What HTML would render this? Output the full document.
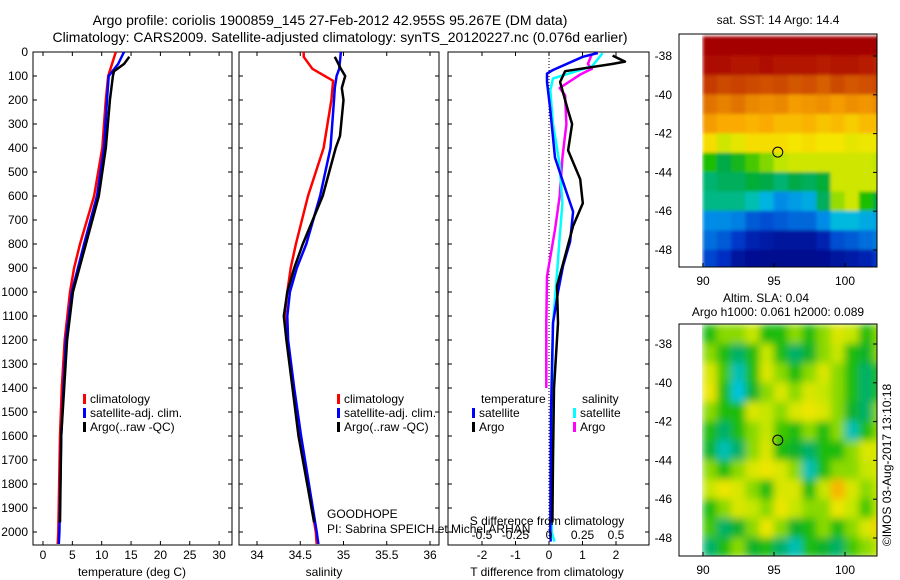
<!DOCTYPE html>
<html><head><meta charset="utf-8">
<style>
html,body{margin:0;padding:0;background:#fff;}
svg{display:block;font-family:"Liberation Sans",sans-serif;}
text{font-size:12px;fill:#000;}
</style></head>
<body>
<svg id="fig" width="900" height="580" viewBox="0 0 900 580" xmlns="http://www.w3.org/2000/svg">
<defs>
<filter id="blur1" x="-5%" y="-5%" width="110%" height="110%"><feGaussianBlur stdDeviation="1.5" edgeMode="duplicate"/></filter>
<filter id="blur2" x="-5%" y="-5%" width="110%" height="110%"><feGaussianBlur stdDeviation="4" edgeMode="duplicate"/></filter>
<clipPath id="clipTop"><rect x="702" y="34" width="175" height="233"/></clipPath>
<clipPath id="clipBot"><rect x="702" y="324" width="175" height="232"/></clipPath>
</defs>
<text x="330" y="25" text-anchor="middle" style="font-size:14px">Argo profile: coriolis 1900859_145 27-Feb-2012 42.955S 95.267E (DM data)</text>
<text x="340" y="42" text-anchor="middle" style="font-size:14px">Climatology: CARS2009. Satellite-adjusted climatology: synTS_20120227.nc (0.076d earlier)</text>
<g id="g"></g>
</svg>
<script>
// ---------- data ----------
const depthTicks = [0,100,200,300,400,500,600,700,800,900,1000,1100,1200,1300,1400,1500,1600,1700,1800,1900,2000];
const tempTicks = [0,5,10,15,20,25,30];
const salTicks = [34,34.5,35,35.5,36];
const tdiffTicks = [-2,-1,0,1,2];
const sdiffTickLabels = ["-0.5","-0.25","0","0.25","0.5"];
const sdiffTicks = [-0.5,-0.25,0,0.25,0.5];

const tClimDepth = [0,100,200,400,600,800,900,1000,1200,1400,1600,2000,2050];
const tClimVal   = [12.4,11.1,10.7,10.1,8.7,6.3,5.3,4.6,3.7,3.2,2.9,2.6,2.5];
const tSatDepth  = [0,50,100,200,400,600,800,1000,1200,1600,2000,2050];
const tSatVal    = [13.8,12.8,11.2,10.9,10.4,9.2,7.0,4.9,3.9,3.1,2.8,2.7];
const tArgoDepth = [20,50,80,100,200,400,600,800,1000,1200,1600,1960];
const tArgoVal   = [14.7,13.8,12.1,11.9,11.4,10.7,9.5,7.3,5.1,4.1,3.1,2.9];

const sClimDepth = [0,20,70,120,200,400,600,800,900,1000,1100,1200,1400,1600,1800,2000,2050];
const sClimVal   = [34.54,34.54,34.64,34.88,34.86,34.77,34.59,34.45,34.39,34.35,34.32,34.35,34.42,34.5,34.59,34.68,34.69];
const sSatDepth  = [0,70,100,150,200,400,600,800,900,1000,1100,1200,1400,1600,1800,2000,2050];
const sSatVal    = [34.97,34.95,34.92,34.9,34.89,34.85,34.73,34.57,34.46,34.38,34.35,34.36,34.43,34.51,34.6,34.69,34.71];
const sArgoDepth = [20,70,100,150,200,350,400,600,800,900,1000,1100,1200,1400,1600,1800,1960];
const sArgoVal   = [34.9,34.97,35.02,34.98,35.0,34.96,34.91,34.76,34.53,34.43,34.35,34.31,34.34,34.41,34.48,34.58,34.66];

const dTSatDepth  = [4,20,75,90,125,230,440,555,665,790,890,1000,1130,1500,2000,2040];
const dTSatVal    = [1.46,1.01,0.12,-0.06,-0.06,0.03,0.18,0.45,0.72,0.63,0.42,0.27,0.12,0.06,0.04,0.05];
const dTArgoDepth = [15,40,50,80,125,245,300,410,530,630,725,850,975,1130,1400,1700,1960];
const dTArgoVal   = [1.9,2.27,1.88,0.48,0.33,0.57,0.69,0.57,0.93,1.01,0.72,0.48,0.24,0.27,0.15,0.12,0.1];
const dSSatDepth  = [5,60,110,160,300,470,630,770,925,1130,1500,2000,2040];
const dSSatVal    = [0.4,0.32,0.03,0.01,0.03,0.08,0.1,0.08,0.06,0.03,0.02,0.02,0.04];
const dSArgoDepth = [8,50,70,95,150,180,300,440,600,740,935,1130,1400];
const dSArgoVal   = [0.32,0.29,0.32,0.23,0.08,0.12,0.13,0.1,0.08,0.045,-0.015,-0.02,-0.02];

const lonTicks = [90,95,100];
const latTicks = [-38,-40,-42,-44,-46,-48];
const gridLon0 = 90, gridLat0 = -37;
const sstGrid = [
 [1,1,1,1,1,1,1,1,1,1,1,1,1],
 [.97,.97,.95,.95,.97,.95,.95,.95,.93,.95,.95,.93,.92],
 [.88,.86,.87,.86,.85,.86,.84,.85,.83,.86,.84,.85,.86],
 [.8,.78,.8,.77,.76,.77,.74,.75,.76,.74,.76,.75,.77],
 [.74,.72,.72,.71,.72,.7,.7,.71,.69,.7,.68,.7,.7],
 [.66,.6,.63,.66,.66,.66,.65,.66,.65,.65,.63,.64,.64],
 [.5,.45,.48,.52,.55,.58,.6,.6,.6,.6,.6,.6,.58],
 [.43,.44,.44,.46,.45,.43,.45,.44,.46,.6,.6,.6,.6],
 [.42,.42,.42,.4,.35,.3,.32,.34,.44,.56,.6,.5,.46],
 [.3,.3,.28,.22,.2,.22,.24,.24,.3,.36,.36,.34,.33],
 [.25,.22,.16,.1,.08,.06,.06,.06,.1,.2,.22,.25,.27],
 [.18,.14,.06,.04,.03,.03,.03,.03,.04,.06,.08,.1,.16]
];
const slaGrid = [
 [.5,.55,.55,.58,.5,.5,.55,.5,.55,.6,.58,.5,.55],
 [.55,.5,.45,.5,.58,.5,.45,.48,.55,.58,.5,.48,.55],
 [.6,.52,.42,.5,.6,.55,.5,.55,.6,.55,.5,.45,.5],
 [.62,.5,.4,.48,.55,.6,.55,.6,.58,.55,.5,.45,.5],
 [.55,.5,.5,.6,.58,.55,.6,.62,.6,.55,.48,.45,.55],
 [.5,.45,.5,.55,.58,.52,.5,.55,.5,.55,.42,.5,.55],
 [.48,.42,.45,.55,.6,.5,.48,.45,.5,.5,.55,.6,.6],
 [.55,.5,.55,.6,.62,.6,.55,.42,.5,.55,.55,.58,.6],
 [.58,.62,.6,.55,.5,.6,.6,.5,.58,.68,.6,.55,.58],
 [.5,.55,.6,.58,.55,.62,.58,.55,.55,.62,.58,.52,.58],
 [.52,.45,.48,.55,.62,.55,.48,.5,.55,.5,.55,.6,.65],
 [.45,.5,.55,.48,.5,.45,.42,.5,.48,.45,.52,.55,.58]
];
const argoLon = 95.267, argoLat = -42.955;

// ---------- helpers ----------
const NS = "http://www.w3.org/2000/svg";
const G = document.getElementById('g');
function el(tag, attrs, parent){ const e=document.createElementNS(NS,tag); for(const k in attrs) e.setAttribute(k,attrs[k]); (parent||G).appendChild(e); return e; }
function txt(x,y,s,anchor,size){ const t=el('text',{x:x,y:y,'text-anchor':anchor||'middle'}); if(size) t.style.fontSize=size+'px'; t.textContent=s; return t; }

const Y0=52, YS=0.24, BOT=545;
const yD = d => Y0 + d*YS;
const xT = v => 43 + 5.87*v;
const xS = v => 257 + 86.5*(v-34);
const xdT = v => 549 + 33.5*v;
const xdS = v => 549 + 134*v;

function panel(x0,x1,name){
  const r=el('rect',{x:x0,y:Y0,width:x1-x0,height:BOT-Y0,fill:'none',stroke:'#000','stroke-width':1});
  
  
  depthTicks.forEach(d=>{ const y=yD(d);
    el('line',{x1:x0,y1:y,x2:x0+4,y2:y,stroke:'#000'});
    el('line',{x1:x1,y1:y,x2:x1-4,y2:y,stroke:'#000'}); });
}
function xticks(ticks,fx,yLab,labels){
  ticks.forEach((v,i)=>{ const x=fx(v);
    el('line',{x1:x,y1:BOT,x2:x,y2:BOT-4,stroke:'#000'});
    el('line',{x1:x,y1:Y0,x2:x,y2:Y0+4,stroke:'#000'});
    if(yLab){ const t=txt(x,yLab,labels?labels[i]:String(v));
      
       } });
}
function line(ds,vs,fx,color,name){
  const pts=ds.map((d,i)=>fx(vs[i]).toFixed(1)+','+yD(d).toFixed(1)).join(' ');
  const p=el('polyline',{points:pts,fill:'none',stroke:color,'stroke-width':2.5,'stroke-linejoin':'round'});
  
  
}

// panel 1 temperature
panel(33,232,'temperature-axes');
depthTicks.forEach(d=>{ const t=txt(28,yD(d)+4,String(d),'end');
  
   });
xticks(tempTicks,xT,559);
line(tClimDepth,tClimVal,xT,'#f00','temp-climatology-line');
line(tSatDepth,tSatVal,xT,'#00f','temp-satellite-line');
line(tArgoDepth,tArgoVal,xT,'#000','temp-argo-line');
let t=txt(132,576,'temperature (deg C)');  

// panel 2 salinity
panel(239,439,'salinity-axes');
xticks(salTicks,xS,559);
line(sClimDepth,sClimVal,xS,'#f00','sal-climatology-line');
line(sSatDepth,sSatVal,xS,'#00f','sal-satellite-line');
line(sArgoDepth,sArgoVal,xS,'#000','sal-argo-line');
t=txt(324,576,'salinity');  

// legends
function legend(x,y,items,prefix){
  items.forEach((it,i)=>{ const yy=y+i*14;
    const r=el('rect',{x:x,y:yy-9,width:3,height:10,fill:it[1]});
    
    
    const tt=txt(x+7,yy,it[0],'start');
    
     });
}
const legItems=[['climatology','#f00'],['satellite-adj. clim.','#00f'],['Argo(..raw -QC)','#000']];
legend(83,403,legItems,'temp');
legend(337,403,legItems,'sal');

t=txt(327,518,'GOODHOPE','start');  
t=txt(327,533,'PI: Sabrina SPEICH et Michel ARHAN','start');  

// panel 3 differences
panel(448,649,'difference-axes');
el('line',{x1:549,y1:Y0,x2:549,y2:BOT,stroke:'#000','stroke-dasharray':'1,2'});
xticks(tdiffTicks,xdT,559);
line(dSArgoDepth,dSArgoVal,xdS,'#f0f','sdiff-argo-line');
line(dSSatDepth,dSSatVal,xdS,'#0ff','sdiff-satellite-line');
line(dTSatDepth,dTSatVal,xdT,'#00f','tdiff-satellite-line');
line(dTArgoDepth,dTArgoVal,xdT,'#000','tdiff-argo-line');
sdiffTicks.forEach((v,i)=>{ const tt=txt(xdS(v),539,sdiffTickLabels[i]);
  
   });
t=txt(547,525,'S difference from climatology');  
t=txt(547,576,'T difference from climatology');  
t=txt(481,403,'temperature','start');  
t=txt(582,403,'salinity','start');  
legend(472,417,[['satellite','#00f'],['Argo','#000']],'tdiff');
legend(573,417,[['satellite','#0ff'],['Argo','#f0f']],'sdiff');

// ---------- maps ----------
const cmStops=[[0,[0,0,128]],[0.15,[0,50,200]],[0.3,[0,140,230]],[0.38,[0,200,220]],[0.45,[0,170,70]],[0.5,[30,190,0]],[0.58,[190,230,0]],[0.65,[245,230,0]],[0.72,[250,170,0]],[0.8,[225,115,0]],[0.9,[190,45,0]],[1,[165,0,0]]];
function cmap(v){ v=Math.max(0,Math.min(1,v));
  for(let i=1;i<cmStops.length;i++){ if(v<=cmStops[i][0]){ const a=cmStops[i-1],b=cmStops[i],f=(v-a[0])/(b[0]-a[0]);
    const c=a[1].map((q,k)=>Math.round(q+(b[1][k]-q)*f)); return 'rgb('+c.join(',')+')'; } }
  return 'rgb(165,0,0)'; }

function mapPanel(top,grid,clip,filt,name,lat38y,contrast){
  const h=(top<100?233:232);
  const lonX = lo => 703 + 14.2*(lo-90);
  const latY = la => lat38y + 19.4*(-38-la);
  const grp=el('g',{'clip-path':'url(#'+clip+')'});
  const inner=el('g',{filter:'url(#'+filt+')'},grp);
  
  
  grid.forEach((row,r)=>row.forEach((v,c)=>{
    const x=lonX(gridLon0+c), y=latY(gridLat0-r);
    const cv = 0.53 + (v-0.53)*contrast;
    const cell=el('rect',{x:x-0.3,y:y-0.3,width:14.8,height:20,fill:cmap(cv)},inner);
    
    
  }));
  const fr=el('rect',{x:679,y:top,width:198,height:h,fill:'none',stroke:'#000'});
  
  
  latTicks.forEach(la=>{ const y=latY(la);
    el('line',{x1:877,y1:y,x2:873,y2:y,stroke:'#000'});
    const tt=txt(672,y+4,String(la),'end');
    
     });
  lonTicks.forEach(lo=>{ const x=lonX(lo);
    el('line',{x1:x,y1:top+h,x2:x,y2:top+h-4,stroke:'#000'});
    const tt=txt(x,top+h+18,String(lo));
    
     });
  const m=el('circle',{cx:lonX(argoLon),cy:latY(argoLat),r:5,fill:'none',stroke:'#000','stroke-width':1});
  
  
}
mapPanel(34,sstGrid,'clipTop','blur1','sst-map',56,1);
mapPanel(324,slaGrid,'clipBot','blur2','sla-map',344,1.2);
t=txt(778,24,'sat. SST: 14 Argo: 14.4');  
t=txt(766,302,'Altim. SLA: 0.04');  
t=txt(778,316,'Argo h1000: 0.061 h2000: 0.089');  
t=el('text',{x:0,y:0,'text-anchor':'middle',transform:'translate(891,465) rotate(-90)'});
t.textContent='©IMOS 03-Aug-2017 13:10:18';


</script>
</body></html>
